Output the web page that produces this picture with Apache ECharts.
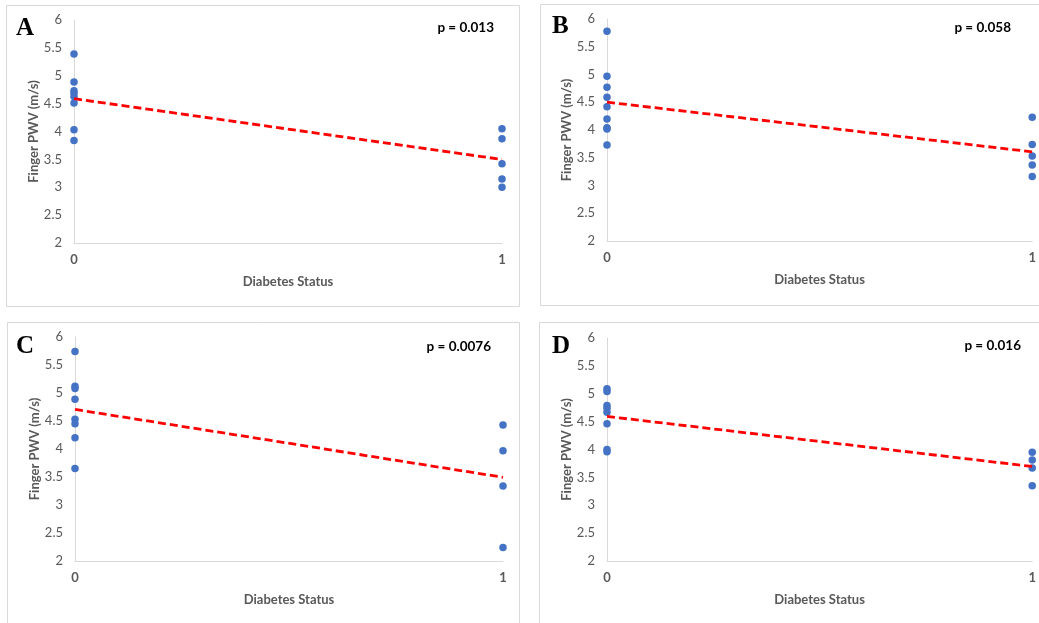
<!DOCTYPE html>
<html>
<head>
<meta charset="utf-8">
<script src="https://cdn.jsdelivr.net/npm/echarts@6/dist/echarts.min.js"></script>
<style>
  html, body { margin: 0; padding: 0; background: #ffffff; }
  #chart { width: 1039px; height: 623px; }
</style>
</head>
<body>
<div id="chart"></div>
<script>
// Finger PWV (m/s) by diabetes status (0 = no diabetes, 1 = diabetes), four panels
const panelLetters = ['A', 'B', 'C', 'D'];
const pLabels = ['p = 0.013', 'p = 0.058', 'p = 0.0076', 'p = 0.016'];
const xTicks = [0, 1];
const yTicks = [2, 2.5, 3, 3.5, 4, 4.5, 5, 5.5, 6];

const panelA_status0 = [5.39, 4.89, 4.73, 4.69, 4.63, 4.51, 4.03, 3.84];
const panelA_status1 = [4.05, 3.87, 3.42, 3.15, 3.00];
const panelB_status0 = [5.78, 4.97, 4.77, 4.59, 4.42, 4.20, 4.04, 4.02, 3.73];
const panelB_status1 = [4.23, 3.74, 3.53, 3.37, 3.16];
const panelC_status0 = [5.74, 5.12, 5.08, 4.89, 4.53, 4.45, 4.20, 3.65];
const panelC_status1 = [4.43, 3.97, 3.34, 2.24];
const panelD_status0 = [5.09, 5.04, 4.79, 4.74, 4.67, 4.46, 4.00, 3.96];
const panelD_status1 = [3.95, 3.81, 3.67, 3.35];

const groups = [
  [panelA_status0, panelA_status1],
  [panelB_status0, panelB_status1],
  [panelC_status0, panelC_status1],
  [panelD_status0, panelD_status1]
];

// layout of each panel
const grids = [
  { left: 74, top: 20, width: 428, height: 223 },
  { left: 607, top: 19, width: 428, height: 222 },
  { left: 75, top: 337, width: 428, height: 224 },
  { left: 607, top: 338, width: 428, height: 223 }
];
const frames = [
  { x: 6.5, y: 5.5, w: 513, h: 301 },
  { x: 540.5, y: 4.5, w: 520, h: 301 },
  { x: 7.5, y: 322.5, w: 512, h: 320 },
  { x: 539.5, y: 322.5, w: 520, h: 320 }
];
const letterPos = [[16, 16], [552, 14], [16, 334], [552, 334]];
const pPos = [[494, 28], [1011, 28], [491, 347], [1021, 346]];

const mean = arr => arr.reduce((s, v) => s + v, 0) / arr.length;

const FONT = 'Lato, "Open Sans", sans-serif';
const GREY = '#595959';

const xAxes = [], yAxes = [], series = [], graphics = [];

groups.forEach((g, i) => {
  xAxes.push({
    gridIndex: i, type: 'value', min: 0, max: 1, interval: 1,
    name: 'Diabetes Status', nameLocation: 'middle', nameGap: 32,
    nameTextStyle: { color: GREY, fontFamily: FONT, fontWeight: 'bold', fontSize: 13 },
    axisLine: { show: true, lineStyle: { color: '#d9d9d9', width: 1 } },
    axisTick: { show: false },
    splitLine: { show: false },
    axisLabel: { color: GREY, fontFamily: FONT, fontWeight: 'bold', fontSize: 13, margin: 10 }
  });
  yAxes.push({
    gridIndex: i, type: 'value', min: yTicks[0], max: yTicks[yTicks.length - 1],
    interval: yTicks[1] - yTicks[0],
    name: 'Finger PWV (m/s)', nameLocation: 'middle', nameGap: 34, nameRotate: 90,
    nameTextStyle: { color: GREY, fontFamily: FONT, fontWeight: 'bold', fontSize: 13 },
    axisLine: { show: true, onZero: false, lineStyle: { color: '#d9d9d9', width: 1 } },
    axisTick: { show: false },
    splitLine: { show: false },
    axisLabel: { color: GREY, fontFamily: FONT, fontSize: 13, margin: 12 }
  });

  const pts = [];
  g.forEach((vals, status) => vals.forEach(v => pts.push([xTicks[status], v])));
  series.push({
    type: 'scatter', xAxisIndex: i, yAxisIndex: i, data: pts,
    symbol: 'circle', symbolSize: 7.5, clip: false,
    itemStyle: { color: '#4472c4', opacity: 1 }, z: 2
  });
  // least-squares fit with a 0/1 predictor passes through the two group means
  series.push({
    type: 'line', xAxisIndex: i, yAxisIndex: i,
    data: [[xTicks[0], mean(g[0])], [xTicks[1], mean(g[1])]],
    symbol: 'none', silent: true, clip: false,
    lineStyle: { color: '#ff0000', width: 2.8, type: [8, 4] }, z: 3
  });

  const f = frames[i];
  graphics.push({
    type: 'rect', shape: { x: f.x, y: f.y, width: f.w, height: f.h },
    style: { fill: 'none', stroke: '#d9d9d9', lineWidth: 1 }, z: -1, silent: true
  });
  graphics.push({
    type: 'text', x: letterPos[i][0], y: letterPos[i][1],
    style: { text: panelLetters[i], fill: '#000', font: 'bold 25px "Liberation Serif", serif' }
  });
  graphics.push({
    type: 'text', x: pPos[i][0], y: pPos[i][1],
    style: { text: pLabels[i], fill: '#000', font: 'bold 13.5px ' + FONT, align: 'right', verticalAlign: 'middle' }
  });
});

const chart = echarts.init(document.getElementById('chart'), null, { renderer: 'canvas' });
chart.setOption({
  backgroundColor: '#ffffff',
  animation: false,
  grid: grids,
  xAxis: xAxes,
  yAxis: yAxes,
  series: series,
  graphic: graphics
});
</script>
</body>
</html>
